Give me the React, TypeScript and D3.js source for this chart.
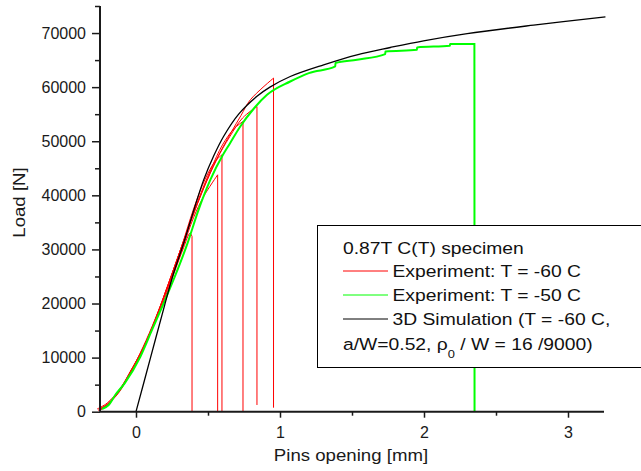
import React, { useEffect, useRef } from "react";
import * as d3 from "d3";

// pins opening [mm], load [N]
const simulation: [number, number][] = [
  [0, 0], [0.1, 9900], [0.2, 19800], [0.26, 25500], [0.331, 31150], [0.41, 38000],
  [0.47, 42860], [0.54, 47300], [0.608, 50870], [0.713, 55000], [0.84, 58300],
  [0.93, 60000], [1.071, 61970], [1.303, 64130], [1.535, 65980], [1.766, 67330],
  [1.997, 68570], [2.3, 69900], [2.761, 71470], [3.26, 73000],
];

const expMinus50: [number, number][] = [
  [-0.236, 500], [-0.19, 1240], [-0.144, 3090], [-0.079, 5250], [0.03, 10170],
  [0.111, 15110], [0.192, 20050], [0.27, 25000], [0.358, 31150], [0.43, 37000],
  [0.516, 42860], [0.6, 47300], [0.65, 49500], [0.724, 52720], [0.82, 56100],
  [0.91, 58580], [1.071, 61040], [1.2, 62600], [1.384, 63820], [1.385, 64450],
  [1.535, 65060], [1.731, 66110], [1.732, 66590], [1.951, 66900], [1.952, 67330],
  [2.18, 67650], [2.181, 67960], [2.35, 67960], [2.351, 0],
];

// several specimens tested at -60 C, each ending with a cleavage drop
const expMinus60a: [number, number][] = [
  [-0.26, 400], [-0.2, 1300], [-0.12, 3500], [-0.05, 6600], [0.02, 9900], [0.1, 14500],
  [0.18, 19600], [0.26, 25300], [0.33, 30300], [0.375, 33000], [0.389, 32400], [0.389, 0],
];
const expMinus60b: [number, number][] = [
  [-0.25, 300], [-0.19, 1500], [-0.1, 4400], [-0.02, 8200], [0.06, 12300], [0.15, 18000],
  [0.24, 24300], [0.32, 30000], [0.4, 35900], [0.47, 39800], [0.567, 43790], [0.567, 0],
];
const expMinus60c: [number, number][] = [
  [-0.27, 500], [-0.2, 1600], [-0.11, 4300], [-0.03, 7900], [0.05, 11800], [0.14, 17500],
  [0.22, 23300], [0.31, 30000], [0.4, 37500], [0.48, 43000], [0.55, 46300], [0.597, 47490],
  [0.597, 0],
];
const expMinus60d: [number, number][] = [
  [-0.26, 200], [-0.21, 1000], [-0.13, 3300], [-0.06, 6300], [0.01, 9800], [0.09, 14400],
  [0.18, 20300], [0.27, 27000], [0.36, 33800], [0.44, 39700], [0.52, 44800], [0.6, 49300],
  [0.68, 52300], [0.743, 53650], [0.743, 0],
];
const expMinus60e: [number, number][] = [
  [-0.25, 600], [-0.2, 1400], [-0.12, 3800], [-0.04, 7300], [0.03, 10700], [0.12, 16000],
  [0.2, 21800], [0.29, 28500], [0.38, 35200], [0.47, 41300], [0.56, 46600], [0.65, 50800],
  [0.74, 54300], [0.84, 56420], [0.84, 1240],
];
const expMinus60f: [number, number][] = [
  [-0.26, 300], [-0.2, 1200], [-0.11, 4100], [-0.03, 7800], [0.05, 11600], [0.13, 16700],
  [0.21, 22300], [0.3, 29200], [0.39, 35900], [0.48, 42000], [0.57, 47200], [0.66, 51600],
  [0.73, 54800], [0.794, 57660], [0.955, 61670], [0.955, 740],
];
const redSpecimens = [expMinus60a, expMinus60b, expMinus60c, expMinus60d, expMinus60e, expMinus60f];

const xMajor = [0, 1, 2, 3];
const xMinor = [0.5, 1.5, 2.5];
const yMajor = [0, 10000, 20000, 30000, 40000, 50000, 60000, 70000];
const yMinor = [5000, 15000, 25000, 35000, 45000, 55000, 65000, 75000];

const legendRows = [
  { label: "Experiment: T = -60 C", color: "#ff0000" },
  { label: "Experiment: T = -50 C", color: "#00ff00" },
  { label: "3D Simulation (T = -60 C,", color: "#000000" },
];

export default function App() {
  const ref = useRef<SVGSVGElement>(null);

  useEffect(() => {
    const svg = d3.select(ref.current);
    svg.selectAll("*").remove();

    const left = 100, right = 604, top = 6, bottom = 411.7;
    const x = d3.scaleLinear().domain([-0.25, 3.25]).range([left, right]);
    const y = d3.scaleLinear().domain([0, 75000]).range([bottom, top]);
    const font = "'Liberation Sans', Arial, sans-serif";

    const smooth = d3.line<[number, number]>()
      .x((d) => x(d[0]))
      .y((d) => y(d[1]))
      .curve(d3.curveCatmullRom.alpha(0.5));
    const monotone = d3.line<[number, number]>()
      .x((d) => x(d[0]))
      .y((d) => y(d[1]))
      .curve(d3.curveMonotoneX);

    const plot = svg.append("g");
    // rising part smooth, the final drop as a straight vertical
    redSpecimens.forEach((s) => {
      const end = s[s.length - 1];
      const d = smooth(s.slice(0, -1)) + `L${x(end[0])},${y(end[1])}`;
      plot.append("path").attr("d", d).attr("fill", "none")
        .attr("stroke", "#ff0000").attr("stroke-width", 1);
    });
    plot.append("path").attr("d", monotone(expMinus50)).attr("fill", "none")
      .attr("stroke", "#00ff00").attr("stroke-width", 2);
    plot.append("path").attr("d", smooth(simulation)).attr("fill", "none")
      .attr("stroke", "#000").attr("stroke-width", 1.3);

    // axes
    const axisColor = "#1a1a1a";
    const styleAxis = (g: any) => {
      g.select(".domain").remove();
      g.selectAll("line").attr("stroke", axisColor).attr("stroke-width", 1.5);
      g.selectAll("text").attr("fill", axisColor).attr("font-family", font).attr("font-size", 16);
    };

    const xg = svg.append("g").attr("transform", `translate(0,${bottom})`);
    xg.append("g").call(d3.axisBottom(x).tickValues(xMajor).tickSize(6).tickPadding(9)
      .tickFormat(d3.format("d"))).call(styleAxis);
    xg.append("g").call(d3.axisBottom(x).tickValues(xMinor).tickSize(4).tickFormat(() => ""))
      .call(styleAxis);

    const yg = svg.append("g").attr("transform", `translate(${left},0)`);
    yg.append("g").call(d3.axisLeft(y).tickValues(yMajor).tickSize(8).tickPadding(6)
      .tickFormat(d3.format("d"))).call(styleAxis);
    yg.append("g").call(d3.axisLeft(y).tickValues(yMinor).tickSize(5).tickFormat(() => ""))
      .call(styleAxis);

    svg.append("line").attr("x1", left).attr("x2", right).attr("y1", bottom).attr("y2", bottom)
      .attr("stroke", axisColor).attr("stroke-width", 2);
    svg.append("line").attr("x1", left).attr("x2", left).attr("y1", top).attr("y2", bottom)
      .attr("stroke", axisColor).attr("stroke-width", 2);

    // axis titles (the original text is set a little wide)
    svg.append("text").attr("transform", "translate(351,461) scale(1.13,1)")
      .attr("text-anchor", "middle").attr("font-family", font).attr("font-size", 16.5)
      .attr("fill", axisColor).text("Pins opening [mm]");
    svg.append("text").attr("transform", "translate(25,202.5) rotate(-90) scale(1.13,1)")
      .attr("text-anchor", "middle").attr("font-family", font).attr("font-size", 16.5)
      .attr("fill", axisColor).text("Load [N]");

    // legend
    const lg = svg.append("g").attr("font-family", font).attr("font-size", 16.5)
      .attr("fill", "#111");
    lg.append("rect").attr("x", 317.5).attr("y", 225.5).attr("width", 330).attr("height", 142)
      .attr("fill", "#fff").attr("stroke", "#000").attr("stroke-width", 1);
    const wide = (tx: number, ty: number) =>
      lg.append("text").attr("transform", `translate(${tx},${ty}) scale(1.17,1)`);
    wide(343, 254).text("0.87T C(T) specimen");
    legendRows.forEach((r, i) => {
      const ly = 271 + i * 24;
      lg.append("line").attr("x1", 343).attr("x2", 388).attr("y1", ly).attr("y2", ly)
        .attr("stroke", r.color).attr("stroke-width", 1);
      wide(392.5, ly + 6).text(r.label);
    });
    const last = wide(343, 349.5);
    last.append("tspan").text("a/W=0.52, \u03c1");
    last.append("tspan").attr("dy", 8).attr("font-size", 11).text("0");
    last.append("tspan").attr("dy", -8).text(" / W = 16 /9000)");
  }, []);

  return (
    <svg ref={ref} width={641} height={471}
      style={{ position: "absolute", left: 0, top: 0, background: "#fff" }} />
  );
}
